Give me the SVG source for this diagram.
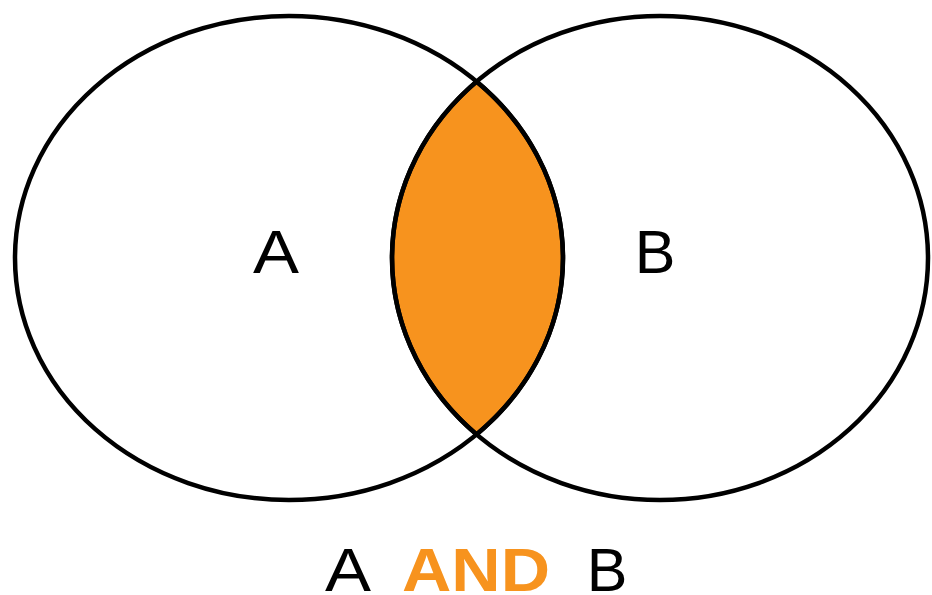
<svg xmlns="http://www.w3.org/2000/svg" width="932" height="595" viewBox="0 0 932 595">
  <style>
    .set { fill: none; stroke: #000; stroke-width: 4.5; }
    .lbl { font-family: "Liberation Sans", Arial, sans-serif; font-size: 61px; fill: #000; text-anchor: middle; }
    .and { font-weight: bold; fill: #F7931E; }
  </style>
  <rect width="932" height="595" fill="#fff"/>
  <g id="intersection">
    <path d="M476.55,81.6 A274,242 0 0,1 476.55,434.4 A268,242 0 0,1 476.55,81.6 Z" fill="#F7931E" stroke="#000" stroke-width="4.5"/>
  </g>
  <g id="setA">
    <ellipse class="set" cx="289" cy="258" rx="274" ry="242"/>
    <text class="lbl" x="276" y="273" textLength="46" lengthAdjust="spacingAndGlyphs">A</text>
  </g>
  <g id="setB">
    <ellipse class="set" cx="660" cy="258" rx="268" ry="242"/>
    <text class="lbl" x="655" y="273">B</text>
  </g>
  <g id="caption">
    <text class="lbl" x="348" y="591" textLength="46" lengthAdjust="spacingAndGlyphs">A</text>
    <text class="lbl and" x="476" y="591" textLength="148" lengthAdjust="spacingAndGlyphs">AND</text>
    <text class="lbl" x="607" y="591">B</text>
  </g>
</svg>
